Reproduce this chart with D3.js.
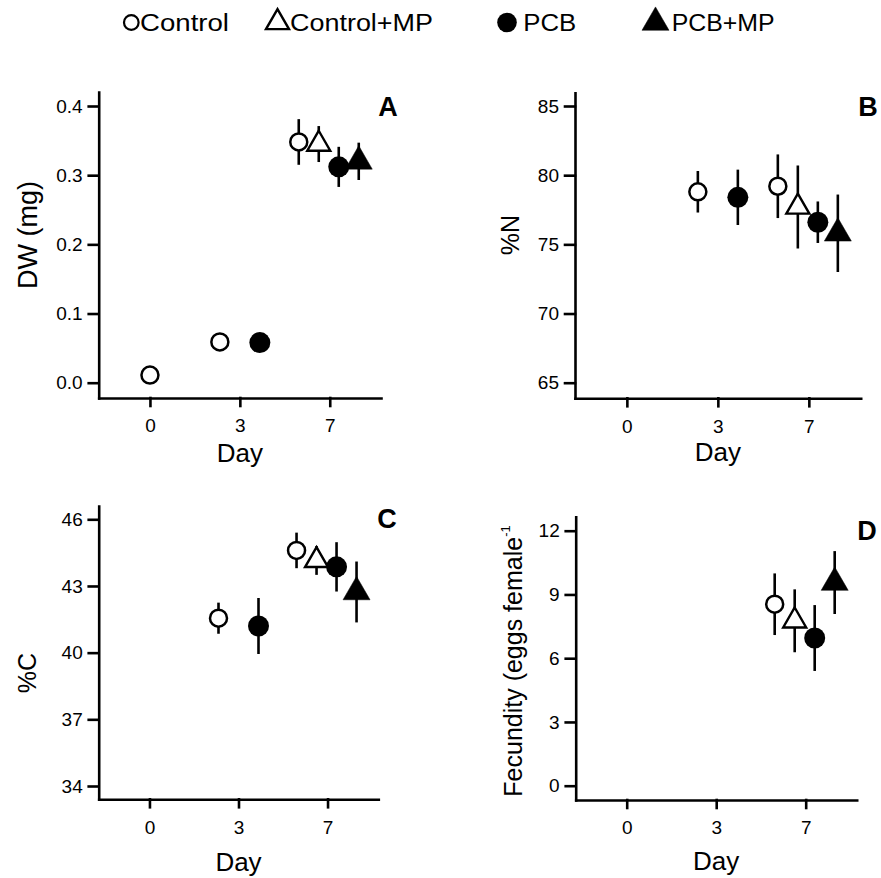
<!DOCTYPE html>
<html>
<head>
<meta charset="utf-8">
<script src="https://cdn.jsdelivr.net/npm/d3@7"></script>
<style>
  body { margin: 0; background: #fff; }
  svg { display: block; font-family: "Liberation Sans", Arial, sans-serif; }
</style>
</head>
<body>
<svg id="chart" width="881" height="878"></svg>
<script>
// días muestreados y tratamientos
const days = ["0", "3", "7"];
const groups = ["Control", "Control+MP", "PCB", "PCB+MP"];

// A: peso seco (mg), media y error por día (null = sin dato)
const dwControl     = [0.011, 0.059, 0.348];
const dwControlErr  = [0.003, 0.003, 0.033];
const dwControlMP   = [null, null, 0.345];
const dwControlMPErr= [null, null, 0.026];
const dwPCB         = [null, 0.058, 0.312];
const dwPCBErr      = [null, 0.003, 0.029];
const dwPCBMP       = [null, null, 0.320];
const dwPCBMPErr    = [null, null, 0.027];

// B: %N
const nControl      = [null, 78.8, 79.2];
const nControlErr   = [null, 1.5, 2.3];
const nControlMP    = [null, null, 77.7];
const nControlMPErr = [null, null, 3.0];
const nPCB          = [null, 78.4, 76.6];
const nPCBErr       = [null, 2.0, 1.5];
const nPCBMP        = [null, null, 75.8];
const nPCBMPErr     = [null, null, 2.8];

// C: %C
const cControl      = [null, 41.55, 44.6];
const cControlErr   = [null, 0.7, 0.8];
const cControlMP    = [null, null, 44.15];
const cControlMPErr = [null, null, 0.65];
const cPCB          = [null, 41.2, 43.86];
const cPCBErr       = [null, 1.26, 1.11];
const cPCBMP        = [null, null, 42.73];
const cPCBMPErr     = [null, null, 1.37];

// D: fecundidad (huevos por hembra)
const fControl      = [null, null, 8.54];
const fControlErr   = [null, null, 1.45];
const fControlMP    = [null, null, 7.76];
const fControlMPErr = [null, null, 1.48];
const fPCB          = [null, null, 6.95];
const fPCBErr       = [null, null, 1.55];
const fPCBMP        = [null, null, 9.56];
const fPCBMPErr     = [null, null, 1.48];

// ticks del eje y
const dwTicks = [0, 0.1, 0.2, 0.3, 0.4];
const nTicks  = [65, 70, 75, 80, 85];
const cTicks  = [34, 37, 40, 43, 46];
const fTicks  = [0, 3, 6, 9, 12];

const panels = [
  { letter: "A", means: [dwControl, dwControlMP, dwPCB, dwPCBMP], errs: [dwControlErr, dwControlMPErr, dwPCBErr, dwPCBMPErr],
    ticks: dwTicks, fmt: d3.format(".1f"), title: "DW (mg)", titleSize: 27,
    left: 98.7, right: 381, top: 92, bottom: 398, tickLo: 382.7, tickHi: 106,
    titleX: 37, titleY: 235, dayY: 462, letterX: 388, letterY: 116 },
  { letter: "B", means: [nControl, nControlMP, nPCB, nPCBMP], errs: [nControlErr, nControlMPErr, nPCBErr, nPCBMPErr],
    ticks: nTicks, fmt: d3.format("d"), title: "%N", titleSize: 25,
    left: 575, right: 860.7, top: 92.7, bottom: 398.3, tickLo: 382.7, tickHi: 106,
    titleX: 519, titleY: 235, dayY: 461, letterX: 868, letterY: 116 },
  { letter: "C", means: [cControl, cControlMP, cPCB, cPCBMP], errs: [cControlErr, cControlMPErr, cPCBErr, cPCBMPErr],
    ticks: cTicks, fmt: d3.format("d"), title: "%C", titleSize: 25,
    left: 98.7, right: 378.3, top: 506, bottom: 799.3, tickLo: 786, tickHi: 519.3,
    titleX: 36, titleY: 673, dayY: 871, letterX: 387, letterY: 528 },
  { letter: "D", means: [fControl, fControlMP, fPCB, fPCBMP], errs: [fControlErr, fControlMPErr, fPCBErr, fPCBMPErr],
    ticks: fTicks, fmt: d3.format("d"), title: "Fecundity (eggs female", titleSize: 25,
    left: 575.7, right: 856.7, top: 516.7, bottom: 800, tickLo: 785.7, tickHi: 530.7,
    titleX: 522, titleY: 661, dayY: 870, letterX: 867, letterY: 540 }
];

const svg = d3.select("#chart");

// separación horizontal de los tratamientos dentro de un mismo día
function dodge(n, i) {
  if (n === 1) return 0;
  if (n === 2) return i === 0 ? -20 : 20;
  return (i - (n - 1) / 2) * 20 - 1;
}

function drawMarker(g, group, x, y, legend) {
  if (group === 0) {
    g.append("circle").attr("cx", x).attr("cy", y).attr("r", legend ? 7.3 : 8.5)
      .attr("fill", "#fff").attr("stroke", "#000").attr("stroke-width", legend ? 2.2 : 2.5);
  } else if (group === 2) {
    g.append("circle").attr("cx", x).attr("cy", y).attr("r", legend ? 9.8 : 10.5)
      .attr("fill", "#000");
  } else {
    const open = group === 1;
    const side = open ? 23 : 27;
    g.append("path")
      .attr("d", d3.symbol(d3.symbolTriangle, side * side * Math.sqrt(3) / 4)())
      .attr("transform", `translate(${x},${y})`)
      .attr("fill", open ? "#fff" : "#000")
      .attr("stroke", "#000")
      .attr("stroke-width", open ? 2.4 : 0.5)
      .attr("stroke-linejoin", "miter");
  }
}

panels.forEach(p => {
  const g = svg.append("g");

  const x = d3.scalePoint().domain(days).range([p.left, p.right]).padding(0.57);
  const yBase = d3.scaleLinear()
    .domain([p.ticks[0], p.ticks[p.ticks.length - 1]])
    .range([p.tickLo, p.tickHi]);
  const y = d3.scaleLinear()
    .domain([yBase.invert(p.bottom), yBase.invert(p.top)])
    .range([p.bottom, p.top]);

  const yAxis = g.append("g")
    .attr("transform", `translate(${p.left},0)`)
    .call(d3.axisLeft(y).tickValues(p.ticks).tickFormat(p.fmt)
      .tickSize(10).tickSizeOuter(0).tickPadding(6));
  const xAxis = g.append("g")
    .attr("transform", `translate(0,${p.bottom})`)
    .call(d3.axisBottom(x).tickSize(8).tickSizeOuter(0).tickPadding(13));

  [yAxis, xAxis].forEach(a => {
    a.selectAll("path, line").attr("stroke", "#000").attr("stroke-width", 2.6)
      .attr("stroke-linecap", "square");
    a.selectAll("text").attr("font-size", 19).attr("fill", "#000")
      .attr("font-family", "'Liberation Sans', Arial, sans-serif");
  });

  // títulos de ejes
  g.append("text")
    .attr("x", x("3")).attr("y", p.dayY)
    .attr("text-anchor", "middle").attr("font-size", 26)
    .text("Day");

  const yt = g.append("text")
    .attr("transform", `translate(${p.titleX},${p.titleY}) rotate(-90)`)
    .attr("text-anchor", "middle").attr("font-size", p.titleSize)
    .text(p.title);
  if (p.letter === "D") {
    yt.append("tspan").attr("font-size", 13).attr("dy", "-0.9em").text("-1");
  }

  g.append("text")
    .attr("x", p.letterX).attr("y", p.letterY)
    .attr("text-anchor", "middle").attr("font-size", 27).attr("font-weight", "bold")
    .text(p.letter);

  // puntos con barras de error
  days.forEach((day, di) => {
    const present = groups.map((_, gi) => gi).filter(gi => p.means[gi][di] != null);
    present.forEach((gi, k) => {
      const cx = x(day) + dodge(present.length, k);
      const m = p.means[gi][di];
      const e = p.errs[gi][di];
      g.append("line")
        .attr("x1", cx).attr("x2", cx)
        .attr("y1", y(m - e)).attr("y2", y(m + e))
        .attr("stroke", "#000").attr("stroke-width", 2.6);
    });
    present.forEach((gi, k) => {
      const cx = x(day) + dodge(present.length, k);
      drawMarker(g, gi, cx, y(p.means[gi][di]), false);
    });
  });
});

// leyenda superior
const legendX = [131.3, 277.5, 507, 655.5];
const textX = [140, 290, 523.3, 671.7];
const textW = [89, 143, 53, 103];
const leg = svg.append("g");
groups.forEach((name, i) => {
  drawMarker(leg, i, legendX[i], 22.5, true);
  leg.append("text")
    .attr("x", textX[i]).attr("y", 30.5)
    .attr("font-size", 23)
    .attr("textLength", textW[i]).attr("lengthAdjust", "spacingAndGlyphs")
    .text(name);
});
</script>
</body>
</html>
